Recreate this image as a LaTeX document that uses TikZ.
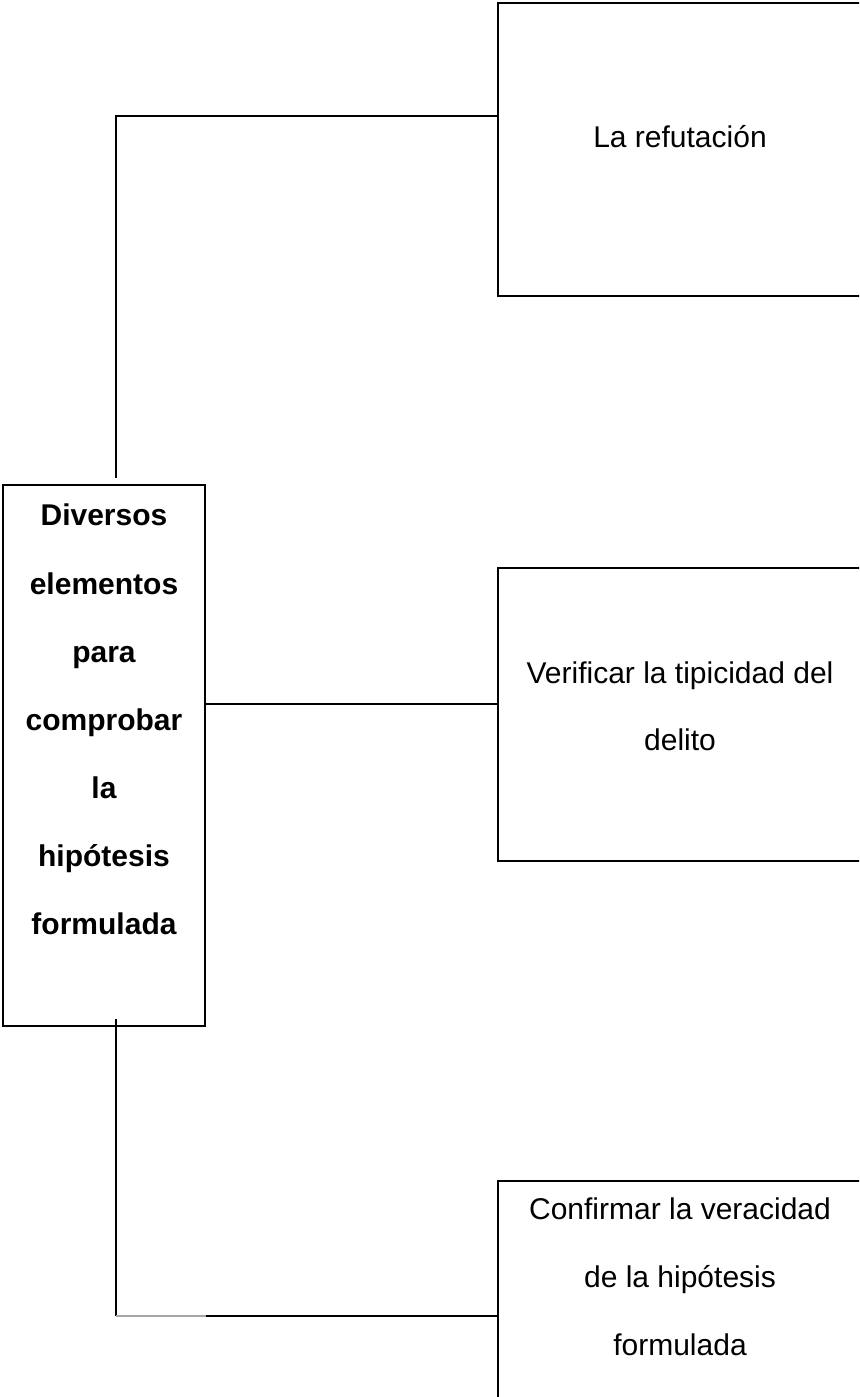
\documentclass[tikz,border=0pt]{standalone}
\usepackage{fontspec}
\setmainfont{Liberation Sans}
\begin{document}
\begin{tikzpicture}[x=0.4pt,y=-0.4pt,
	caja/.style={draw,line width=0.8pt,rectangle,inner sep=0pt},
	texto/.style={anchor=base,inner sep=0pt,font=\fontsize{12}{14}\selectfont},
	textob/.style={texto,font=\fontsize{12}{14}\selectfont\bfseries},
	linea/.style={line width=0.8pt}]
	\useasboundingbox (0,0) rectangle (859,1397);
	\clip (0,0) rectangle (859,1397);
	%cajas
	\node [caja,minimum width=80.8pt,minimum height=216.4pt] (izq) at (104,755.5) {};
	\node [caja,minimum width=145.6pt,minimum height=117.2pt] (refut) at (680,149.5) {};
	\node [caja,minimum width=145.6pt,minimum height=117.2pt] (verif) at (680,714.5) {};
	\node [caja,minimum width=145.6pt,minimum height=87.2pt] (conf) at (680,1290) {};
	%textos
	\foreach \palabra [count=\i from 0] in {Diversos,elementos,para,comprobar,la,hipótesis,formulada}
		\node [textob] (izq\i) at (104,526+68*\i) {\palabra};
	\node [texto] (refut1) at (680,148) {La refutación};
	\node [texto] (verif1) at (680,683) {Verificar la tipicidad del};
	\node [texto] (verif2) at (680,750) {delito};
	\node [texto] (conf1) at (680,1219) {Confirmar la veracidad};
	\node [texto] (conf2) at (680,1287) {de la hipótesis};
	\node [texto] (conf3) at (680,1355) {formulada};
	%conectores
	\coordinate (t1) at (116,478);
	\coordinate (t2) at ([yshift=13.4pt]refut.west);
	\draw [linea] (t1) |- (t2);
	\coordinate (m) at ([yshift=20.6pt]izq.east);
	\draw [linea] (m) -- (m -| verif.west);
	\coordinate (b1) at (116,1019);
	\coordinate (b3) at ([yshift=-10.4pt]conf.west);
	\coordinate (b2) at (b1 |- b3);
	\coordinate (b4) at (izq.east |- b3);
	\draw [linea] (b1) -- (b2);
	\draw [gray!70,line width=0.6pt] (b2) -- (b4);
	\draw [linea] (b4) -- (b3);
\end{tikzpicture}
\end{document}
